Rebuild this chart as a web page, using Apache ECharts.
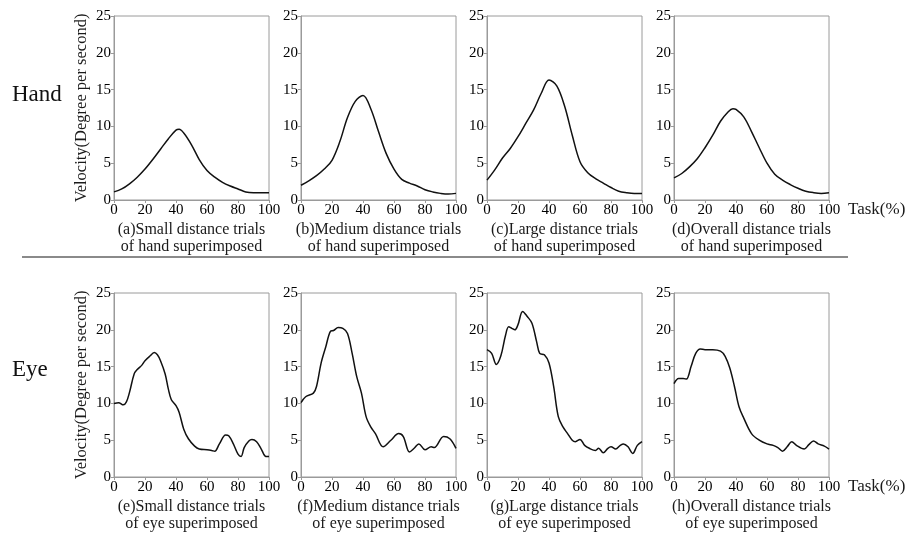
<!DOCTYPE html>
<html>
<head>
<meta charset="utf-8">
<script src="https://cdn.jsdelivr.net/npm/echarts@6/dist/echarts.min.js"></script>
<style>html,body{margin:0;padding:0;background:#fff;}#c{width:908px;height:534px;}</style>
</head>
<body>
<div id="c"></div>
<script>
// ---- data ----
const xTicks = [0, 20, 40, 60, 80, 100];
const yTicks = [0, 5, 10, 15, 20, 25];

const xHandA = [0,5,10,15,20,25,30,35,40,42,45,50,55,60,65,70,75,80,85,90,95,100];
const yHandA = [1.1,1.5,2.2,3.1,4.2,5.5,6.9,8.3,9.5,9.6,9.1,7.5,5.5,4.0,3.1,2.4,1.9,1.5,1.1,1.0,1.0,1.0];

const xHandB = [0,5,10,15,20,25,30,35,40,45,50,55,60,65,70,75,80,85,90,95,100];
const yHandB = [2.0,2.6,3.3,4.2,5.4,7.9,11.2,13.4,14.2,12.4,9.3,6.3,4.2,2.8,2.3,1.9,1.4,1.1,0.9,0.8,0.9];

const xHandC = [0,5,10,15,20,25,30,35,40,45,50,55,60,65,70,75,80,85,90,95,100];
const yHandC = [2.7,4.1,5.7,7.0,8.6,10.4,12.2,14.5,16.3,15.5,12.8,8.8,5.2,3.7,2.9,2.3,1.7,1.2,1.0,0.9,0.9];

const xHandD = [0,5,10,15,20,25,30,35,38,40,45,50,55,60,65,70,75,80,85,90,95,100];
const yHandD = [3.0,3.6,4.5,5.6,7.1,8.8,10.7,12.0,12.4,12.3,11.3,9.3,7.1,5.0,3.5,2.7,2.1,1.6,1.2,1.0,0.9,1.0];

const xEyeE = [0,3,6,8,10,13,15,18,20,23,26,28,30,33,35,37,40,42,45,48,52,55,60,63,65,68,72,74,77,80,82,84,87,89,92,95,98,100];
const yEyeE = [10.0,10.1,9.8,10.2,11.5,14.0,14.6,15.2,15.8,16.4,16.9,16.6,15.8,14.0,12.0,10.5,9.7,8.8,6.5,5.2,4.2,3.8,3.7,3.6,3.5,4.5,5.7,5.6,4.5,3.1,2.8,4.0,4.9,5.1,4.8,3.8,2.8,2.8];

const xEyeF = [0,3,8,10,13,16,19,21,24,27,30,33,36,39,42,45,48,53,58,63,66,70,73,76,80,84,86,92,96,100];
const yEyeF = [10.1,10.9,11.4,12.3,15.5,17.7,19.8,19.9,20.3,20.2,19.5,16.8,13.6,11.4,8.2,6.8,5.9,4.1,5.0,5.9,5.5,3.4,3.9,4.5,3.7,4.1,4.0,5.5,5.2,3.9];

const xEyeG = [0,3,6,9,12,14,16,18,20,23,26,29,32,34,37,40,43,46,49,52,55,57,60,63,66,70,72,75,78,80,83,86,88,91,94,97,100];
const yEyeG = [17.3,16.8,15.3,16.5,19.3,20.4,20.2,20.0,20.7,22.5,21.8,20.9,18.4,16.8,16.6,15.5,12.3,8.2,6.8,5.9,5.0,4.8,5.1,4.3,3.9,3.6,3.9,3.3,3.9,4.1,3.8,4.3,4.5,4.1,3.2,4.3,4.8];

const xEyeH = [0,3,6,8,11,14,17,20,25,30,33,36,39,42,45,50,55,60,64,67,70,73,76,79,84,87,90,93,97,100];
const yEyeH = [12.7,13.4,13.4,13.3,15.0,16.8,17.4,17.3,17.3,17.1,16.4,14.8,12.3,9.5,8.0,5.9,5.0,4.5,4.3,4.0,3.5,4.1,4.8,4.3,3.8,4.4,4.9,4.5,4.2,3.8];

const captions1 = ['(a)Small distance trials','(b)Medium distance trials','(c)Large distance trials','(d)Overall distance trials',
                   '(e)Small distance trials','(f)Medium distance trials','(g)Large distance trials','(h)Overall distance trials'];
const captions2 = ['of hand superimposed','of hand superimposed','of hand superimposed','of hand superimposed',
                   'of eye superimposed','of eye superimposed','of eye superimposed','of eye superimposed'];
const rowLabels = ['Hand', 'Eye'];
const yAxisName = 'Velocity(Degree per second)';
const xAxisName = 'Task(%)';

const seriesX = [xHandA, xHandB, xHandC, xHandD, xEyeE, xEyeF, xEyeG, xEyeH];
const seriesY = [yHandA, yHandB, yHandC, yHandD, yEyeE, yEyeF, yEyeG, yEyeH];

// ---- layout ----
const FONT = '"Liberation Serif", "DejaVu Serif", serif';
const lefts = [114, 301, 487, 674];
const tops = [16, 293];
const W = 155, H = 184;
const AX = '#9a9a9a';

const grids = [], xAxes = [], yAxes = [], series = [], graphics = [];
for (let i = 0; i < 8; i++) {
  const r = Math.floor(i / 4), c = i % 4;
  grids.push({left: lefts[c], top: tops[r], width: W, height: H, show: true, borderColor: AX, borderWidth: 1, backgroundColor: 'transparent'});
  xAxes.push({
    type: 'value', gridIndex: i, min: xTicks[0], max: xTicks[xTicks.length - 1], interval: xTicks[1] - xTicks[0],
    axisLine: {show: true, lineStyle: {color: AX, width: 1}},
    axisTick: {show: true, length: 3, lineStyle: {color: AX}},
    axisLabel: {fontFamily: FONT, fontSize: 15, color: '#000', margin: 3},
    splitLine: {show: false},
    name: c === 3 ? xAxisName : '', nameLocation: 'end', nameGap: 19,
    nameTextStyle: {fontFamily: FONT, fontSize: 17, color: '#1a1a1a', verticalAlign: 'top', align: 'left', padding: [1, 0, 0, 0]}
  });
  yAxes.push({
    type: 'value', gridIndex: i, min: yTicks[0], max: yTicks[yTicks.length - 1], interval: yTicks[1] - yTicks[0],
    axisLine: {show: true, lineStyle: {color: AX, width: 1}},
    axisTick: {show: true, length: 3, lineStyle: {color: AX}},
    axisLabel: {fontFamily: FONT, fontSize: 15, color: '#000', margin: 3},
    splitLine: {show: false},
    name: c === 0 ? yAxisName : '', nameLocation: 'middle', nameRotate: 90, nameGap: 24,
    nameTextStyle: {fontFamily: FONT, fontSize: 16.5, color: '#1a1a1a'}
  });
  series.push({
    type: 'line', xAxisIndex: i, yAxisIndex: i, smooth: 0.35, showSymbol: false, symbol: 'none',
    lineStyle: {color: '#111', width: 1.5},
    data: seriesX[i].map((x, k) => [x, seriesY[i][k]])
  });
  const cx = lefts[c] + W / 2;
  const capTop = tops[r] + H;
  graphics.push({type: 'text', x: cx, y: capTop + 30, style: {text: captions1[i], font: '16px ' + FONT, fill: '#1a1a1a', textAlign: 'center', textVerticalAlign: 'middle'}});
  graphics.push({type: 'text', x: cx, y: capTop + 47, style: {text: captions2[i], font: '16px ' + FONT, fill: '#1a1a1a', textAlign: 'center', textVerticalAlign: 'middle'}});
}
graphics.push({type: 'text', x: 12, y: 95, style: {text: rowLabels[0], font: '23px ' + FONT, fill: '#111', textAlign: 'left', textVerticalAlign: 'middle'}});
graphics.push({type: 'text', x: 12, y: 370, style: {text: rowLabels[1], font: '23px ' + FONT, fill: '#111', textAlign: 'left', textVerticalAlign: 'middle'}});
graphics.push({type: 'line', shape: {x1: 22, y1: 257, x2: 848, y2: 257}, style: {stroke: '#8a8a8a', lineWidth: 2}});

const chart = echarts.init(document.getElementById('c'), null, {renderer: 'canvas'});
chart.setOption({
  animation: false,
  backgroundColor: '#fff',
  grid: grids, xAxis: xAxes, yAxis: yAxes, series: series, graphic: graphics
});
</script>
</body>
</html>
